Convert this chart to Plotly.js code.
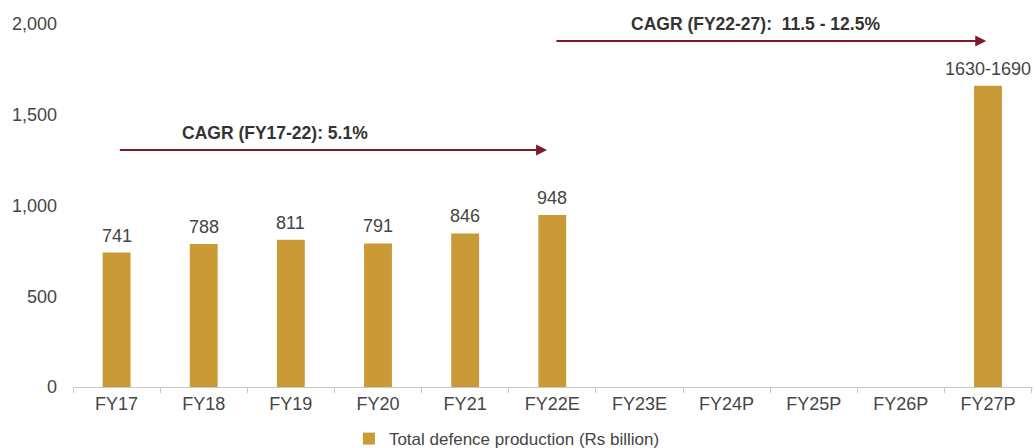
<!DOCTYPE html>
<html>
<head>
<meta charset="utf-8">
<script src="https://cdn.plot.ly/plotly-3.0.1.min.js"></script>
<style>html,body{margin:0;padding:0;background:#fff;}#chart{width:1035px;height:448px;}</style>
</head>
<body>
<div id="chart"></div>
<script>
const categories = ["FY17","FY18","FY19","FY20","FY21","FY22E","FY23E","FY24P","FY25P","FY26P","FY27P"];
const production = [741, 788, 811, 791, 846, 948, null, null, null, null, 1660];
const valueLabels = ["741","788","811","791","846","948","","","","","1630-1690"];
const seriesName = "Total defence production (Rs billion)";
const yTicks = [0, 500, 1000, 1500, 2000];
const yTickText = ["0", "500", "1,000", "1,500", "2,000"];
const cagr1 = {text: "CAGR (FY17-22): 5.1%", from: 0.02, to: 4.94, y: 1306, labelX: 1.82, labelY: 1400};
const cagr2 = {text: "CAGR (FY22-27):  11.5 - 12.5%", from: 5.03, to: 9.98, y: 1906, labelX: 7.33, labelY: 2000};

const gold = "#C99A36";
const maroon = "#7B1C2C";
const textColor = "#454545";
const font = "Liberation Sans, Arial, sans-serif";

const annotations = [];
categories.forEach((c, i) => {
  if (production[i] !== null && valueLabels[i]) {
    annotations.push({x: c, y: production[i], xref: "x", yref: "y", text: valueLabels[i],
      showarrow: false, yanchor: "bottom", yshift: 5, font: {family: font, size: 18, color: textColor}});
  }
});
[cagr1, cagr2].forEach(a => {
  annotations.push({x: a.to, y: a.y, ax: a.from, ay: a.y, xref: "x", yref: "y", axref: "x", ayref: "y",
    showarrow: true, arrowhead: 2, arrowsize: 1.1, arrowwidth: 2, arrowcolor: maroon, text: ""});
  annotations.push({x: a.labelX, y: a.labelY, xref: "x", yref: "y", text: "<b>" + a.text + "</b>",
    showarrow: false, font: {family: font, size: 17.5, color: "#333333"}});
});

const data = [{
  type: "bar", x: categories, y: production, name: seriesName,
  marker: {color: gold}, showlegend: true, hoverinfo: "x+y"
}];

const layout = {
  width: 1035, height: 448,
  margin: {l: 73, r: 2, t: 24, b: 61},
  paper_bgcolor: "#ffffff", plot_bgcolor: "#ffffff",
  bargap: 0.68,
  font: {family: font, size: 17, color: textColor},
  xaxis: {type: "category", showline: true, linecolor: "#c8c8c8", linewidth: 1,
    ticks: "outside", tickson: "boundaries", ticklen: 5, tickcolor: "#c8c8c8",
    showgrid: false, zeroline: false, tickfont: {family: font, size: 18, color: textColor},
    fixedrange: true},
  yaxis: {range: [0, 2000], tickvals: yTicks, ticktext: yTickText, showgrid: false,
    zeroline: false, showline: false, ticks: "", ticklabelstandoff: 15,
    tickfont: {family: font, size: 18, color: textColor}, fixedrange: true},
  showlegend: true,
  legend: {orientation: "h", x: 0.452, xanchor: "center", yref: "container", y: 0.02, yanchor: "middle",
    font: {family: font, size: 17, color: textColor}, itemwidth: 30},
  annotations: annotations
};

Plotly.newPlot("chart", data, layout, {displayModeBar: false, staticPlot: true});
</script>
</body>
</html>
